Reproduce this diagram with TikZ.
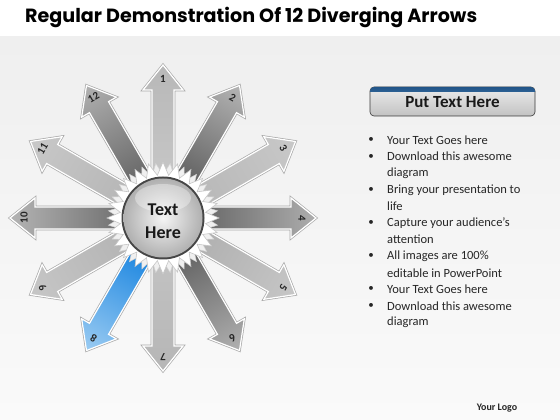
\documentclass[tikz,border=0pt]{standalone}
\usepackage{fontspec}
\setmainfont{Carlito}
\newfontfamily\titlefont{Poppins}[BoldFont={Poppins Bold}]
\usetikzlibrary{shadings,calc}
\definecolor{bgtop}{HTML}{EFEFEF}
\definecolor{bgbot}{HTML}{FAFAFA}
\definecolor{edgegray}{HTML}{A8A8A8}
\definecolor{btntop}{HTML}{ECECEC}
\definecolor{btnbot}{HTML}{C2C2C2}
\definecolor{btnblue}{HTML}{2E78C2}
\tikzset{
  arrowedge/.style={draw=edgegray, line width=2.6pt, line join=miter},
  arrowbody/.style={draw=white, line width=1.2pt, line join=miter},
  numlabel/.style={font=\bfseries\fontsize{11}{11}\selectfont, text=black!85, inner sep=0pt},
  bullettext/.style={anchor=west, font=\fontsize{12.5}{14}\selectfont, text=black!85, inner sep=0pt},
  bulletdot/.style={font=\fontsize{11}{12}\selectfont, text=black!85, inner sep=0pt}
}
\begin{document}
\begin{tikzpicture}[x=1pt,y=1pt]
\useasboundingbox (0,0) rectangle (560,420);
\fill[white] (0,0) rectangle (560,420);
\shade[top color=bgtop, bottom color=bgbot] (0,0) rectangle (560,383);
% title
\node[anchor=west, inner sep=0pt] (title) at (25,403) {\resizebox{452pt}{!}{\titlefont\bfseries\fontsize{19}{22}\selectfont Regular Demonstration Of 12 Diverging Arrows}};
\coordinate (ctr) at (163,202);
% arrows
\foreach \i/\dk/\lt in {1/C6C6C6/B8B8B8, 2/5E5E5E/B4B4B4, 3/B8B8B8/C8C8C8, 4/6A6A6A/ADADAD, 5/B0B0B0/C6C6C6, 6/626262/B0B0B0, 7/C2C2C2/B6B6B6, 8/1C86E0/9ACBF2, 9/B4B4B4/C6C6C6, 10/707070/B4B4B4, 11/B6B6B6/C8C8C8, 12/646464/B0B0B0}{
  \pgfmathsetmacro\ang{90-30*(\i-1)}
  \pgfmathsetmacro\rot{\ang-90}
  \definecolor{dkc}{HTML}{\dk}
  \definecolor{ltc}{HTML}{\lt}
  \begin{scope}[transform canvas={shift={(163,202)},rotate=\ang}]
    \draw[arrowedge] (40,-11) -- (128,-11) -- (128,-20) -- (153,0) -- (128,20) -- (128,11) -- (40,11) -- cycle;
    \shade[arrowbody, left color=dkc, right color=ltc] (40,-11) -- (128,-11) -- (128,-20) -- (153,0) -- (128,20) -- (128,11) -- (40,11) -- cycle;
  \end{scope}
  \node[numlabel, rotate=\rot] (n\i) at ($(ctr)+(\ang:139)$) {\i};
}
% star frame
\begin{scope}[shift={(163,202)}]
  \filldraw[fill=gray!12, draw=gray!35, line width=0.5pt] (7.5:55) \foreach \k in {0,...,23}{ -- ({\k*15+15}:43) -- ({\k*15+22.5}:55)} -- cycle;
  \filldraw[fill=white, draw=gray!45, line width=0.6pt] (0:56) \foreach \k in {0,...,23}{ -- ({\k*15+7.5}:43) -- ({\k*15+15}:56)} -- cycle;
\end{scope}
% hub sphere
\fill[gray!55!black] (ctr) circle (41.5);
\shade[inner color=gray!8, outer color=gray!62] (ctr) circle (39.5);
\fill[white, opacity=0.35] (163,222) ellipse (28 and 14);
\node[align=center, font=\bfseries\fontsize{18}{23}\selectfont, text=black!90, inner sep=0pt] (hub) at (163,199) {Text\\Here};
% button
\shade[rounded corners=4pt, top color=btntop, bottom color=btnbot, draw=gray!45!black, line width=0.6pt] (370,304) rectangle (535,333);
\begin{scope}
  \clip (360,328.5) rectangle (545,340);
  \shade[rounded corners=4pt, top color=btnblue!70!black, bottom color=btnblue!70!white] (370,304) rectangle (535,333);
\end{scope}
\node[font=\bfseries\fontsize{17}{20}\selectfont, text=black!90, inner sep=0pt] (btn) at (452.5,318) {Put Text Here};
% bullets
\foreach \k/\b/\t in {0/1/Your Text Goes here, 1/1/Download this awesome, 2/0/diagram, 3/1/Bring your presentation to, 4/0/life, 5/1/Capture your audience’s, 6/0/attention, 7/1/All images are 100\%, 8/0/editable in PowerPoint, 9/1/Your Text Goes here, 10/1/Download this awesome, 11/0/diagram}{
  \pgfmathsetmacro\yy{280-16.6*\k}
  \node[bullettext] (t\k) at (387,\yy) {\t};
  \ifnum\b=1 \node[bulletdot] (b\k) at (371,\yy) {•}; \fi
}
\node[font=\bfseries\fontsize{10}{12}\selectfont, text=black!85, inner sep=0pt] (logo) at (497,12) {Your Logo};
\end{tikzpicture}
\end{document}
